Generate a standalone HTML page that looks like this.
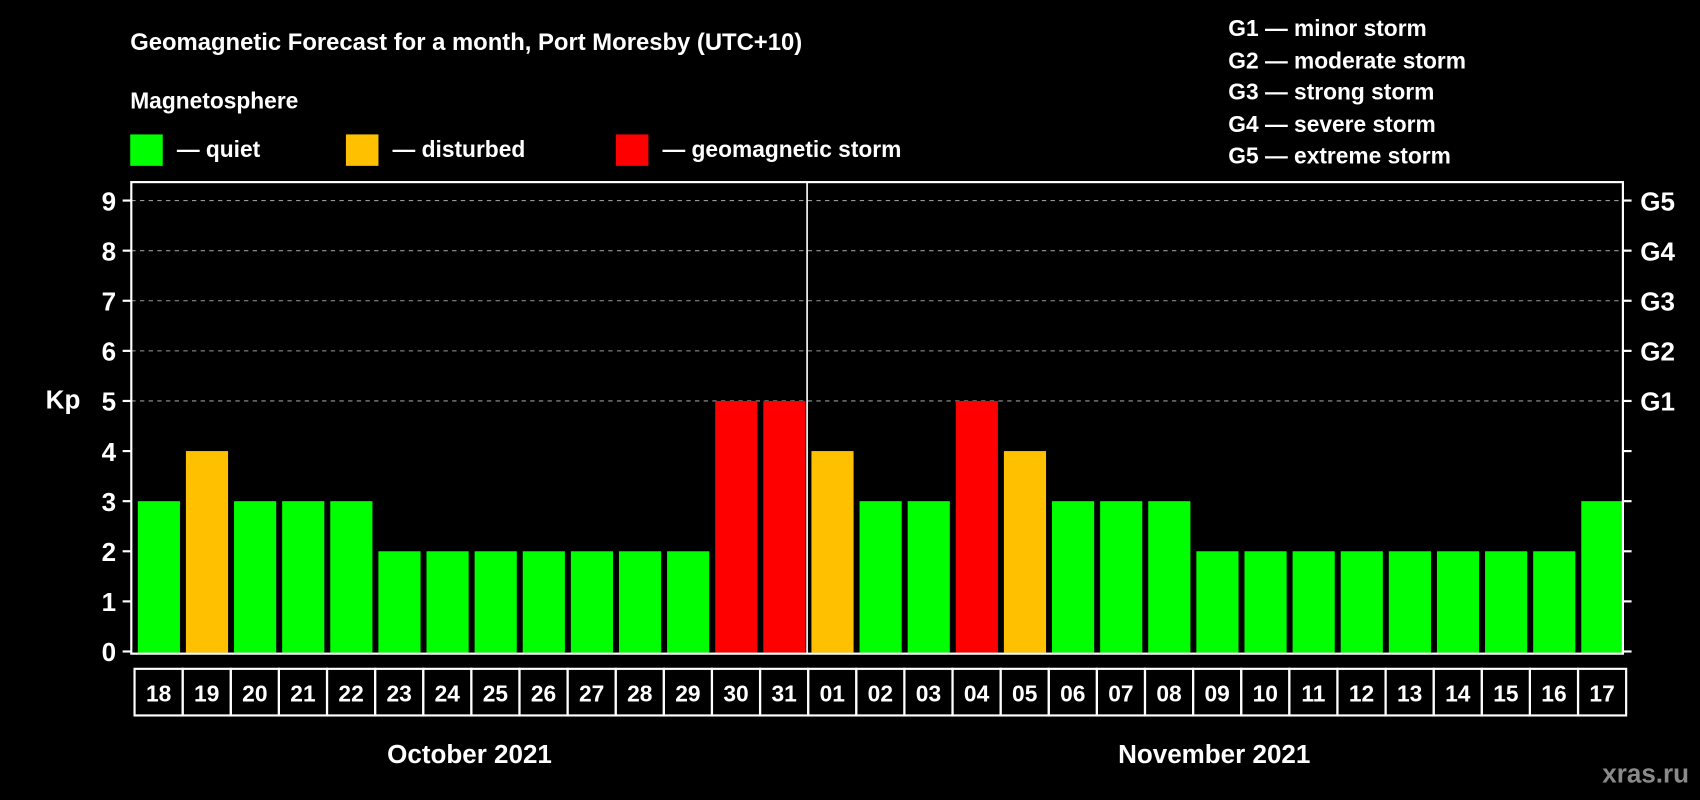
<!DOCTYPE html>
<html><head><meta charset="utf-8"><style>
html,body{margin:0;padding:0;background:#000;}
svg{display:block;font-family:"Liberation Sans",Arial,sans-serif;font-weight:bold;}
</style></head><body>
<svg id="chart" width="1700" height="800" viewBox="0 0 1568 738" xmlns="http://www.w3.org/2000/svg">
<rect width="1568" height="738" fill="#000"/>
<text x="120" y="46" fill="#fff" font-size="22">Geomagnetic Forecast for a month, Port Moresby (UTC+10)</text>
<text x="120" y="100" fill="#fff" font-size="21">Magnetosphere</text>
<rect x="120" y="124" width="30" height="29" fill="#00ff00"/>
<text x="163" y="145" fill="#fff" font-size="21">— quiet</text>
<rect x="319" y="124" width="30" height="29" fill="#ffc000"/>
<text x="362" y="145" fill="#fff" font-size="21">— disturbed</text>
<rect x="568" y="124" width="30" height="29" fill="#ff0000"/>
<text x="611" y="145" fill="#fff" font-size="21">— geomagnetic storm</text>
<g fill="#fff" font-size="21">
<text x="1133" y="33">G1 — minor storm</text>
<text x="1133" y="63">G2 — moderate storm</text>
<text x="1133" y="92">G3 — strong storm</text>
<text x="1133" y="122">G4 — severe storm</text>
<text x="1133" y="151">G5 — extreme storm</text>
</g>
<text x="58" y="377" fill="#fff" font-size="24" text-anchor="middle">Kp</text>
<text x="433" y="704" fill="#fff" font-size="24" text-anchor="middle">October 2021</text>
<text x="1120" y="704" fill="#fff" font-size="24" text-anchor="middle">November 2021</text>
<text x="1558" y="722" fill="#8a8a8a" font-size="24" text-anchor="end">xras.ru</text>
<g id="plot"></g>
</svg>
<script>
const days = ["18","19","20","21","22","23","24","25","26","27","28","29","30","31","01","02","03","04","05","06","07","08","09","10","11","12","13","14","15","16","17"];
const kpValues = [3,4,3,3,3,2,2,2,2,2,2,2,5,5,4,3,3,5,4,3,3,3,2,2,2,2,2,2,2,2,3];
const yTicks = [0,1,2,3,4,5,6,7,8,9];
const gLabels = ["G1","G2","G3","G4","G5"];
const gLevels = [5,6,7,8,9];
const monthSplitIndex = 14;

const NS="http://www.w3.org/2000/svg";
const g=document.getElementById('plot');
const L=121,R=1497,T=168,B=603;
const y0=601,yUnit=(601-185)/9;
const yScale=v=>y0-v*yUnit;
const step=(R-L)/days.length;
const xScale=i=>L+i*step;
function mk(tag,attrs){const e=document.createElementNS(NS,tag);for(const k in attrs)e.setAttribute(k,attrs[k]);g.appendChild(e);return e;}
// grid
yTicks.forEach(t=>{
  if(t>=5){const l=mk('line',{x1:L,x2:R,y1:yScale(t),y2:yScale(t),stroke:'#999','stroke-dasharray':'4,4','stroke-width':1});
  
  }
  const tk=mk('line',{x1:L-8,x2:L,y1:yScale(t),y2:yScale(t),stroke:'#fff','stroke-width':2});
  
  
  const rt=mk('line',{x1:R,x2:R+8,y1:yScale(t),y2:yScale(t),stroke:'#fff','stroke-width':2});
  
  
  const tx=mk('text',{x:L-14,y:yScale(t)+9,fill:'#fff','font-size':24,'text-anchor':'end'});
  tx.textContent=t;
  
  
});
gLabels.forEach((lab,i)=>{
  const tx=mk('text',{x:R+16,y:yScale(gLevels[i])+9,fill:'#fff','font-size':24});
  tx.textContent=lab;
  
  
});
// bars
kpValues.forEach((v,i)=>{
  const col=v>=5?'#ff0000':(v>=4?'#ffc000':'#00ff00');
  const r=mk('rect',{x:xScale(i)+6,y:yScale(v),width:step-5.5,height:B-1-yScale(v),fill:col});
  
  
});
// frame
const fr=mk('rect',{x:L,y:T,width:R-L,height:B-T,fill:'none',stroke:'#fff','stroke-width':2});


const sp=mk('line',{x1:xScale(monthSplitIndex)+2,x2:xScale(monthSplitIndex)+2,y1:T,y2:B,stroke:'#fff','stroke-width':1.5});


// date cells
days.forEach((d,i)=>{
  const c=mk('rect',{x:xScale(i)+3,y:617,width:step,height:43,fill:'none',stroke:'#fff','stroke-width':2});
  
  
  const t=mk('text',{x:xScale(i)+3+step/2,y:647,fill:'#fff','font-size':21,'text-anchor':'middle'});
  t.textContent=d;
  
  
});
</script>
</body></html>
